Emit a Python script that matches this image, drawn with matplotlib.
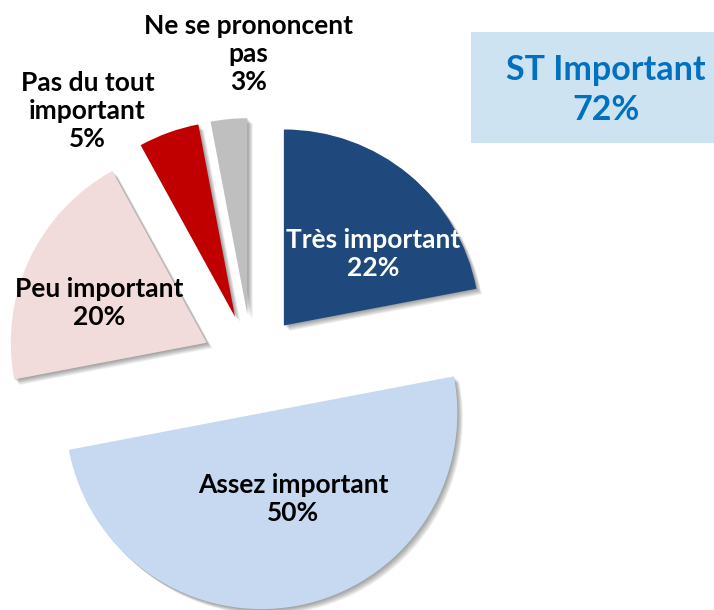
import matplotlib
matplotlib.use("Agg")
import matplotlib.pyplot as plt
from matplotlib.patches import Wedge, Rectangle

# data
labels = ["Très important", "Assez important", "Peu important",
          "Pas du tout\nimportant", "Ne se prononcent\npas"]
values = [22, 50, 20, 5, 3]
colors = ["#1F497D", "#C6D9F1", "#F2DCDB", "#C00000", "#BFBFBF"]
text_colors = ["white", "black", "black", "black", "black"]
label_pos = [(0.62, 0.56), (0.21, -0.69), (-0.78, 0.31), (-0.84, 1.29), (-0.02, 1.58)]
total_label = "ST Important\n72%"

plt.rcParams['font.family'] = ['Lato', 'DejaVu Sans']

fig = plt.figure(figsize=(7.14, 6.10), dpi=100)
ax = fig.add_axes([0, 0, 1, 1])

explode = [0.255] * len(values)
wedges, _ = ax.pie(values, colors=colors, startangle=90, counterclock=False,
                   explode=explode, radius=1.0,
                   wedgeprops=dict(linewidth=0, zorder=3))

# soft shadow under each wedge
for w in wedges:
    for i in range(7):
        off = 0.004 * (i + 1)
        sh = Wedge((w.center[0] + off, w.center[1] - off), w.r, w.theta1, w.theta2,
                   facecolor="black", alpha=0.06, linewidth=0, zorder=2)
        ax.add_patch(sh)

for lab, v, c, (x, y) in zip(labels, values, text_colors, label_pos):
    ax.text(x, y, f"{lab}\n{v}%", ha="center", va="center", color=c,
            fontsize=19, fontweight="bold", linespacing=1.2, zorder=5)

# summary box
bx0, bx1 = (471 - 252) / 196, (714 - 252) / 196
by0, by1 = (364 - 143) / 196, (364 - 32) / 196
ax.add_patch(Rectangle((bx0, by0), bx1 - bx0, by1 - by0, facecolor="#CDE3F2",
                       edgecolor="none", zorder=1))
ax.text((606 - 252) / 196, (364 - 90) / 196, total_label, ha="center", va="center",
        color="#0070C0", fontsize=24.5, fontweight="bold", linespacing=1.3, zorder=5)

ax.set_xlim(-252 / 196, (714 - 252) / 196)
ax.set_ylim((364 - 610) / 196, 364 / 196)
ax.set_aspect("equal")
ax.axis("off")

fig.savefig("out.png", dpi=100)
